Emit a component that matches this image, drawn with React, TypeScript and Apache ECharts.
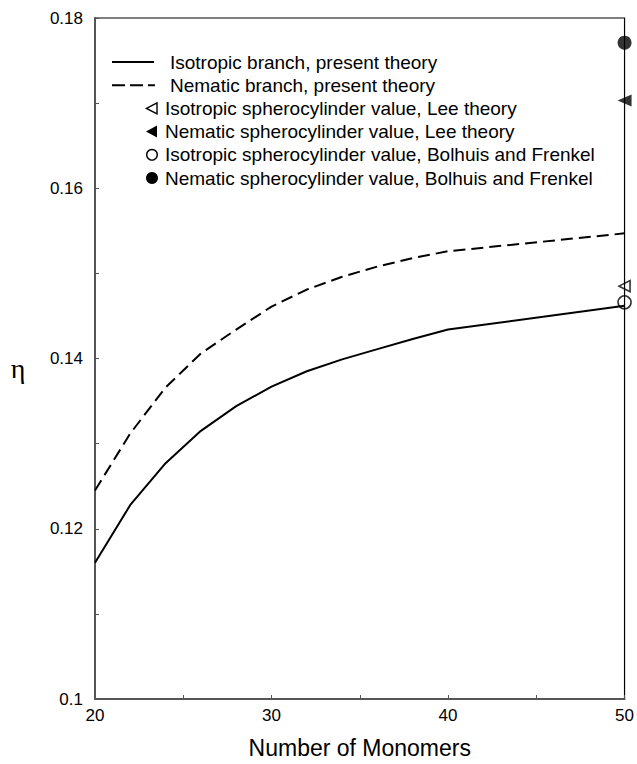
import React, { useEffect, useRef } from "react";
import * as echarts from "echarts";

const monomers = [20, 22, 24, 26, 28, 30, 32, 34, 36, 38, 40, 50];
const isotropicBranch = [0.116, 0.1228, 0.1277, 0.1315, 0.1344, 0.1367, 0.1385, 0.1399, 0.1411, 0.1423, 0.1434, 0.1462];
const nematicBranch = [0.1245, 0.1312, 0.1366, 0.1406, 0.1434, 0.1461, 0.1481, 0.1496, 0.1508, 0.1518, 0.1526, 0.1547];

const spheroN = 50;
const leeIsotropic = 0.1485;
const leeNematic = 0.1703;
const bfIsotropic = 0.1466;
const bfNematic = 0.1771;

const legendLabels = [
  "Isotropic branch, present theory",
  "Nematic branch, present theory",
  "Isotropic spherocylinder value, Lee theory",
  "Nematic spherocylinder value, Lee theory",
  "Isotropic spherocylinder value, Bolhuis and Frenkel",
  "Nematic spherocylinder value, Bolhuis and Frenkel",
];

const FONT = '"Liberation Sans", Arial, Helvetica, sans-serif';
const LEFT_TRI = "path://M0,5 L10,0 L10,10 Z";

export default function App() {
  const ref = useRef<HTMLDivElement>(null);
  useEffect(() => {
    if (!ref.current) return;
    const chart = echarts.init(ref.current, undefined, { renderer: "svg" });

    const lx0 = 112, lx1 = 154, tx = 165, mx = 152, ly0 = 62, dy = 23.2;
    const legendGraphics: any[] = [];
    legendLabels.forEach((t, i) => {
      const y = ly0 + i * dy;
      legendGraphics.push({
        type: "text",
        x: i < 2 ? tx + 5 : tx,
        y,
        style: { text: t, fontSize: 19, fontFamily: FONT, fill: "#000", verticalAlign: "middle", align: "left" },
      });
    });
    legendGraphics.push({ type: "line", shape: { x1: lx0, y1: ly0, x2: lx1, y2: ly0 }, style: { stroke: "#000", lineWidth: 2 } });
    legendGraphics.push({ type: "line", shape: { x1: lx0, y1: ly0 + dy, x2: lx1 + 1, y2: ly0 + dy }, style: { stroke: "#000", lineWidth: 2, lineDash: [13, 5] } });
    legendGraphics.push({ type: "polygon", shape: { points: [[mx - 5.5, ly0 + 2 * dy], [mx + 5, ly0 + 2 * dy - 5.5], [mx + 5, ly0 + 2 * dy + 5.5]] }, style: { fill: "none", stroke: "#000", lineWidth: 1.4 } });
    legendGraphics.push({ type: "polygon", shape: { points: [[mx - 6, ly0 + 3 * dy], [mx + 5, ly0 + 3 * dy - 6], [mx + 5, ly0 + 3 * dy + 6]] }, style: { fill: "#000" } });
    legendGraphics.push({ type: "circle", shape: { cx: mx, cy: ly0 + 4 * dy, r: 5.3 }, style: { fill: "none", stroke: "#000", lineWidth: 1.4 } });
    legendGraphics.push({ type: "circle", shape: { cx: mx, cy: ly0 + 5 * dy, r: 6 }, style: { fill: "#000" } });
    legendGraphics.push({
      type: "text",
      x: 18,
      y: 368,
      style: { text: "η", fontSize: 28, fontFamily: '"Liberation Serif", "DejaVu Serif", serif', fill: "#000", align: "center", verticalAlign: "middle" },
    });

    chart.setOption({
      animation: false,
      backgroundColor: "#fff",
      grid: { left: 95, right: 11, top: 18, bottom: 50, show: true, borderColor: "#000", borderWidth: 1.2, backgroundColor: "transparent" },
      xAxis: {
        type: "value",
        min: 20,
        max: 50,
        interval: 5,
        name: "Number of Monomers",
        nameLocation: "middle",
        nameGap: 37,
        nameTextStyle: { fontSize: 23, fontFamily: FONT, color: "#000" },
        axisLine: { show: true, onZero: false, lineStyle: { color: "#555", width: 2 } },
        axisTick: { show: true, inside: true, length: 4, lineStyle: { color: "#555", width: 1 } },
        axisLabel: {
          fontSize: 17,
          fontFamily: FONT,
          color: "#000",
          margin: 8,
          formatter: (v: number) => (v % 10 === 0 ? String(v) : ""),
        },
        splitLine: { show: false },
      },
      yAxis: {
        type: "value",
        min: 0.1,
        max: 0.18,
        interval: 0.01,
        axisLine: { show: true, onZero: false, lineStyle: { color: "#555", width: 2 } },
        axisTick: { show: true, inside: true, length: 4, lineStyle: { color: "#555", width: 1 } },
        axisLabel: {
          fontSize: 17,
          fontFamily: FONT,
          color: "#000",
          margin: 12,
          formatter: (v: number) => {
            const k = Math.round(v * 100);
            return k % 2 === 0 ? String(k / 100) : "";
          },
        },
        splitLine: { show: false },
      },
      series: [
        {
          type: "line",
          data: monomers.map((m, i) => [m, isotropicBranch[i]]),
          showSymbol: false,
          lineStyle: { color: "#000", width: 2 },
          z: 3,
        },
        {
          type: "line",
          data: monomers.map((m, i) => [m, nematicBranch[i]]),
          showSymbol: false,
          lineStyle: { color: "#000", width: 2, type: [12, 6] },
          z: 3,
        },
        {
          type: "scatter",
          data: [[spheroN, leeIsotropic]],
          symbol: LEFT_TRI,
          symbolSize: [11, 11],
          clip: false,
          itemStyle: { color: "rgba(0,0,0,0)", borderColor: "#000", borderWidth: 1.6 },
          z: 4,
        },
        {
          type: "scatter",
          data: [[spheroN, leeNematic]],
          symbol: LEFT_TRI,
          symbolSize: [14, 12],
          clip: false,
          itemStyle: { color: "#000" },
          z: 4,
        },
        {
          type: "scatter",
          data: [[spheroN, bfIsotropic]],
          symbol: "circle",
          symbolSize: 13,
          clip: false,
          itemStyle: { color: "rgba(0,0,0,0)", borderColor: "#000", borderWidth: 1.6 },
          z: 4,
        },
        {
          type: "scatter",
          data: [[spheroN, bfNematic]],
          symbol: "circle",
          symbolSize: 14,
          clip: false,
          itemStyle: { color: "#000" },
          z: 4,
        },
      ],
      graphic: legendGraphics,
    });
    return () => chart.dispose();
  }, []);
  return <div ref={ref} style={{ position: "absolute", left: 0, top: 0, width: 637, height: 764 }} />;
}
